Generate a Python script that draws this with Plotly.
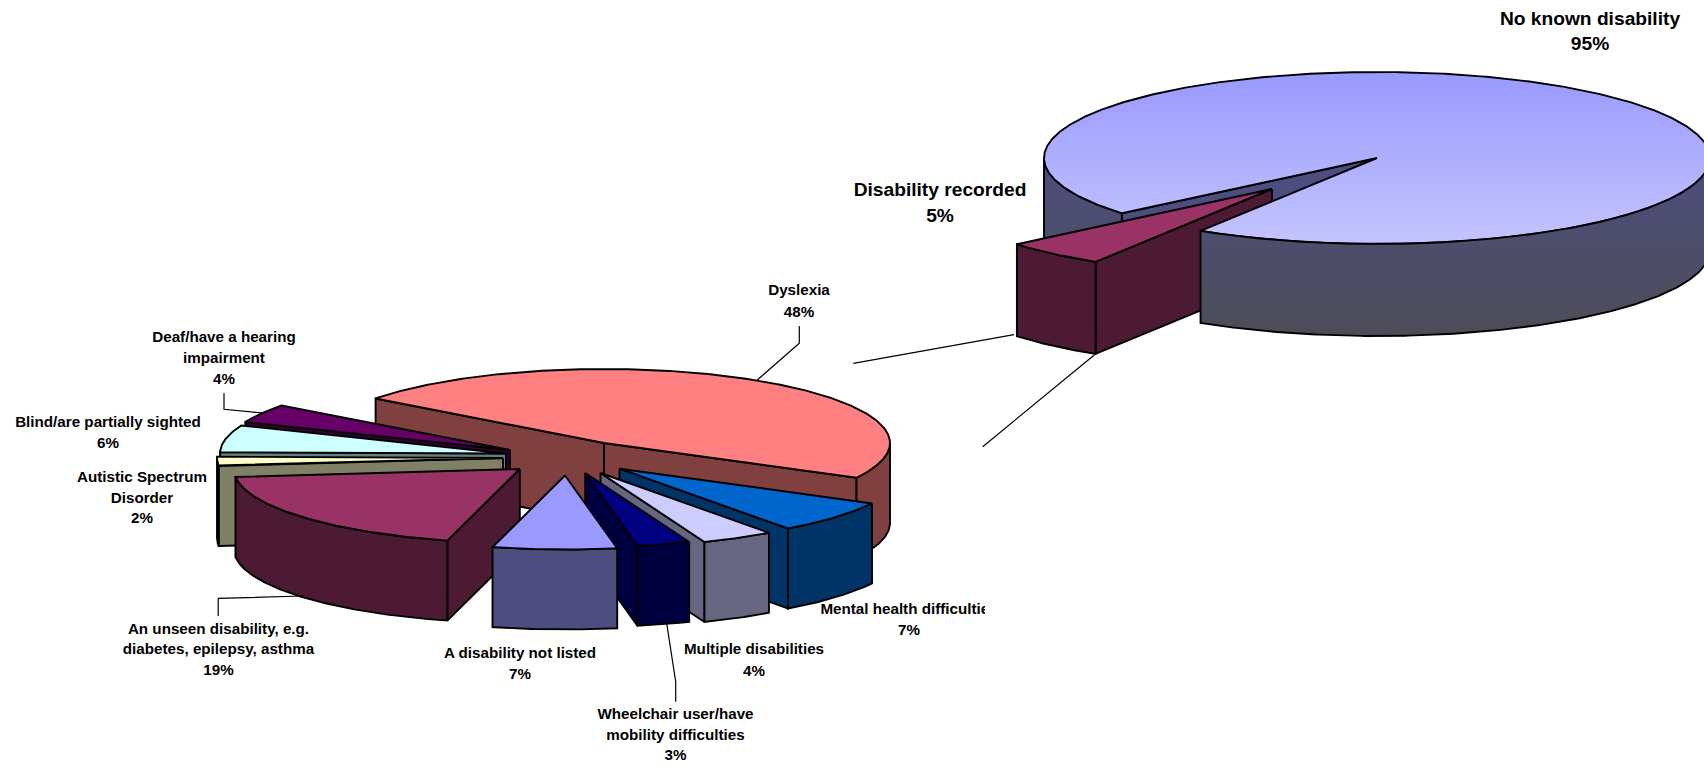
import numpy as np
import plotly.graph_objects as go

# ---- data ----
main_labels = ["Disability recorded", "No known disability"]
main_values = [5, 95]
detail_labels = [
    "Dyslexia",
    "Mental health difficulties",
    "Multiple disabilities",
    "Wheelchair user/have<br>mobility difficulties",
    "A disability not listed",
    "An unseen disability, e.g.<br>diabetes, epilepsy, asthma",
    "Autistic Spectrum<br>Disorder",
    "Blind/are partially sighted",
    "Deaf/have a hearing<br>impairment",
]
detail_values = [47.5, 7.2, 4.1, 3.0, 7.0, 19.2, 2.0, 5.9, 4.1]

# ---- styles ----
detail_top = ["#ff8080", "#0066cc", "#ccccff", "#000080", "#9999ff", "#993366", "#ffffcc", "#ccffff", "#660066"]
detail_wall = ["#804040", "#003366", "#666680", "#000040", "#4d4d80", "#4d1a33", "#808066", "#668080", "#330033"]
detail_offset = [(0, 0), (15.5, 25.7), (-3.5, 30), (-18.8, 30), (-39, 32.5), (-84.2, 26), (-101, 15), (-98, 10.5), (-94, 7)]
detail_order = [0, 1, 2, 8, 7, 6, 5, 3, 4]
detail_center = (604, 443)
detail_radii = (286, 74)
detail_depth = 80
detail_start = 217

main_center = (1377, 158)
main_radii = (333, 86)
main_depth = 92
main_start = 122
main_offset = (-105, 31)

detail_label_pos = [
    (799, [291.5, 313]), (909, [610.5, 631.5]), (754, [650.5, 672]), (675.5, [715.5, 736, 756.5]),
    (520, [654.5, 675]), (218.5, [630.5, 650.5, 671.5]), (142, [478.5, 499, 519.5]),
    (108, [423.5, 444]), (224, [338.5, 359.5, 380]),
]
main_label_pos = [(940, [191.5, 217.5]), (1590, [20, 45.5])]

leaders = [
    ([799.3, 799.3, 757.3], [326, 343.3, 380]),
    ([224, 224, 263], [393.3, 409.3, 413]),
    ([218.2, 218.2, 303.2], [616, 598.3, 596]),
    ([675.7, 675.7, 666.7], [701.7, 681.7, 623.3]),
    ([853.3, 1014], [363.3, 334.7]),
    ([982.7, 1094.3], [446.7, 355]),
]

OUTLINE = dict(color="#000000", width=1.9)
fig = go.Figure()


def rim(c, r, angles):
    a = np.radians(angles)
    return c[0] + r[0] * np.cos(a), c[1] + r[1] * np.sin(a)


def arc(t0, t1):
    return np.linspace(t0, t1, max(2, int(abs(t1 - t0)) * 2 + 2))


def poly(x, y, color=None, gradient=None):
    kw = dict(x=list(x), y=list(y), mode="lines", fill="toself", line=OUTLINE,
              hoverinfo="skip", showlegend=False)
    if gradient:
        kw["fillgradient"] = dict(type="vertical", colorscale=[[0, gradient[0]], [1, gradient[1]]],
                                  start=gradient[2], stop=gradient[3])
    else:
        kw["fillcolor"] = color
    fig.add_trace(go.Scatter(**kw))


def top(c, r, t0, t1, color=None, gradient=None):
    x, y = rim(c, r, arc(t0, t1))
    poly(np.r_[c[0], x, c[0]], np.r_[c[1], y, c[1]], color, gradient)


def cut_face(c, r, d, t, color=None, gradient=None):
    x, y = rim(c, r, np.array([t]))
    poly([c[0], x[0], x[0], c[0], c[0]], [c[1], y[0], y[0] + d, c[1] + d, c[1]], color, gradient)


def outer_wall(c, r, d, t0, t1, color=None, gradient=None):
    for k in range(0, 3):
        lo, hi = max(t0, 360 * k), min(t1, 360 * k + 180)
        if hi > lo:
            x, y = rim(c, r, arc(lo, hi))
            poly(np.r_[x, x[::-1], x[0]], np.r_[y, (y + d)[::-1], y[0]], color, gradient)


# ---- second pie: breakdown of recorded disabilities ----
edges = detail_start + np.r_[0, np.cumsum(detail_values)] * 3.6
for i in detail_order:
    t0, t1 = edges[i], edges[i + 1]
    c = (detail_center[0] + detail_offset[i][0], detail_center[1] + detail_offset[i][1])
    if np.cos(np.radians(t0)) < 0:
        cut_face(c, detail_radii, detail_depth, t0, detail_wall[i])
    if np.cos(np.radians(t1)) > 0:
        cut_face(c, detail_radii, detail_depth, t1, detail_wall[i])
    outer_wall(c, detail_radii, detail_depth, t0, t1, detail_wall[i])
    top(c, detail_radii, t0, t1, detail_top[i])

# ---- first pie: recorded vs not ----
t_a = main_start
t_b = t_a + main_values[0] * 3.6
t_c = t_b + main_values[1] * 3.6
wall_grad = ("#4d4d80", "#4d4d58", 150, 336)
top_grad = ("#9999ff", "#c4c4ff", 72, 244)
outer_wall(main_center, main_radii, main_depth, t_b, 360, gradient=wall_grad)
cut_face(main_center, main_radii, main_depth, t_b, "#4d4d80")
c2 = (main_center[0] + main_offset[0], main_center[1] + main_offset[1])
cut_face(c2, main_radii, main_depth, t_a, "#4d1a33")
outer_wall(c2, main_radii, main_depth, t_a, t_b, "#4d1a33")
top(c2, main_radii, t_a, t_b, "#993366")
top(main_center, main_radii, t_b, t_c, gradient=top_grad)
outer_wall(main_center, main_radii, main_depth, 360, t_c, gradient=wall_grad)

# ---- leader and connector lines ----
for lx, ly in leaders:
    fig.add_trace(go.Scatter(x=lx, y=ly, mode="lines", line=dict(color="#000000", width=1.2),
                             hoverinfo="skip", showlegend=False))


# ---- labels ----
def label(name, value, pos, size):
    lines = name.split("<br>") + [f"{round(value)}%"]
    fig.add_trace(go.Scatter(x=[pos[0]] * len(lines), y=pos[1], text=lines, mode="text",
                             textposition="middle center",
                             textfont=dict(family="Liberation Sans", size=size, color="#000000", weight="bold"),
                             hoverinfo="skip", showlegend=False, cliponaxis=False))


for n, v, p in zip(detail_labels, detail_values, detail_label_pos):
    label(n, v, p, 15.2)
for n, v, p in zip(main_labels, main_values, main_label_pos):
    label(n, v, p, 19.2)

fig.update_layout(
    width=1704, height=765, margin=dict(l=0, r=0, t=0, b=0),
    paper_bgcolor="white", plot_bgcolor="white",
    xaxis=dict(range=[0, 1704], visible=False, fixedrange=True),
    yaxis=dict(range=[765, 0], visible=False, fixedrange=True),
    # the source picture cuts the "Mental health difficulties" label off at its right edge
    shapes=[dict(type="rect", xref="x", yref="y", x0=985, x1=1020, y0=598, y1=622,
                 fillcolor="white", line=dict(width=0), layer="above")],
)
fig.write_html("out.html", config={"displayModeBar": False},
               post_script="document.body.style.margin='0';document.body.style.overflow='hidden';")
